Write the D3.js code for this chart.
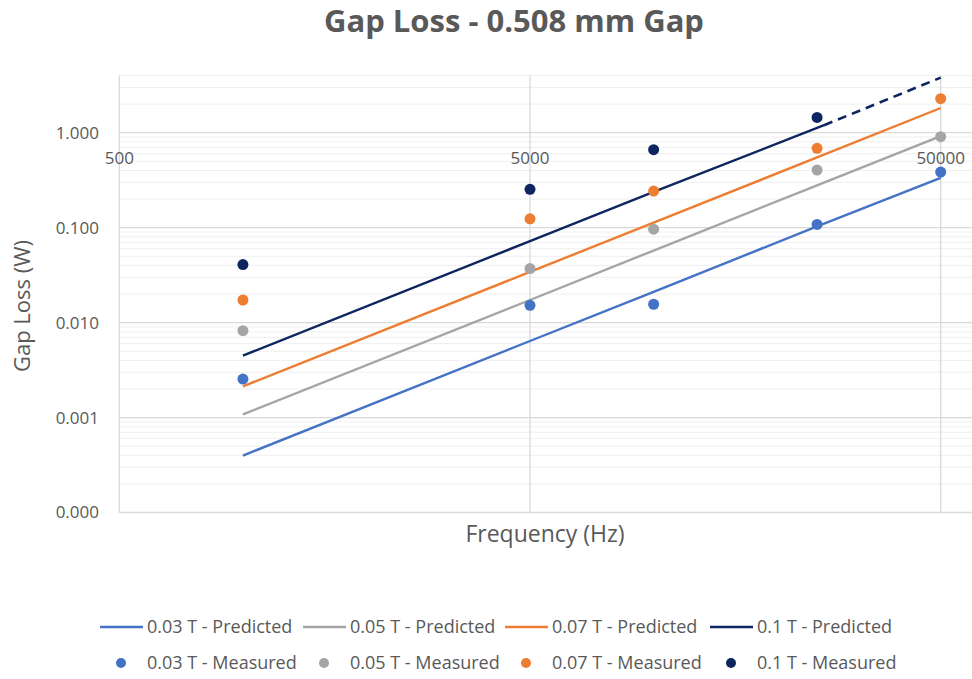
<!DOCTYPE html>
<html>
<head>
<meta charset="utf-8">
<script src="https://cdn.jsdelivr.net/npm/d3@7"></script>
<style>
  html, body { margin: 0; padding: 0; background: #fff; }
  svg { display: block; font-family: "Open Sans", sans-serif; }
</style>
</head>
<body>
<svg id="chart" width="972" height="679"></svg>
<script>
// Frequencies (Hz) where losses were measured
const freqMeasured = [1000, 5000, 10000, 25000, 50000];

// Measured gap loss (W) per flux density
const measured03 = [0.00254, 0.0152, 0.0156, 0.108, 0.385];
const measured05 = [0.00823, 0.0371, 0.0964, 0.404, 0.908];
const measured07 = [0.0173, 0.124, 0.243, 0.684, 2.28];
const measured10 = [0.0409, 0.253, 0.662, 1.45, null];

// Predicted gap loss (W)
const freqPredicted = [1000, 5000, 10000, 25000, 50000];
const predicted03 = [0.000398, 0.0064, 0.0211, 0.103, 0.335];
const predicted05 = [0.00108, 0.0173, 0.0574, 0.279, 0.92];
const predicted07 = [0.00213, 0.0342, 0.113, 0.549, 1.82];
// 0.1 T prediction: solid part, then dashed extension
const freqPredicted10 = [1000, 5000, 10000, 26000];
const predicted10 = [0.00449, 0.0721, 0.238, 1.2];
const freqPredicted10Ext = [26000, 50000];
const predicted10Ext = [1.2, 3.8];

const xTicks = [500, 5000, 50000];
const yTicks = [0.0001, 0.001, 0.01, 0.1, 1];

const seriesNames = ["0.03 T", "0.05 T", "0.07 T", "0.1 T"];
const colors = ["#4472C4", "#A5A5A5", "#ED7D31", "#0E2660"];

const svg = d3.select("#chart");
const textColor = "#595959";

const x = d3.scaleLog().domain([500, 50000]).range([119.3, 940.7]);
const y = d3.scaleLog().domain([0.0001, 1]).range([512.5, 132.7]);

const plotLeft = x(500), plotRight = 972;
const plotTop = y(4), plotBottom = y(0.0001);

// Title
svg.append("text")
  .attr("x", 514).attr("y", 32)
  .attr("text-anchor", "middle")
  .attr("fill", textColor)
  .style("font-size", "31px").style("font-weight", "700")
  .text("Gap Loss - 0.508 mm Gap");

// Minor horizontal gridlines (2..9 within each decade)
const minorVals = [];
for (let e = -4; e <= 0; e++) {
  for (let m = 2; m <= 9; m++) {
    const v = m * Math.pow(10, e);
    if (v <= 4.0001) minorVals.push(v);
  }
}
svg.append("g").selectAll("line").data(minorVals).join("line")
  .attr("x1", plotLeft).attr("x2", plotRight)
  .attr("y1", d => y(d)).attr("y2", d => y(d))
  .attr("stroke", "#efefef").attr("stroke-width", 1);

// Major horizontal gridlines
svg.append("g").selectAll("line").data(yTicks).join("line")
  .attr("x1", plotLeft).attr("x2", plotRight)
  .attr("y1", d => y(d)).attr("y2", d => y(d))
  .attr("stroke", "#d9d9d9").attr("stroke-width", 1.3);

// Vertical gridlines
svg.append("g").selectAll("line").data(xTicks).join("line")
  .attr("x1", d => x(d)).attr("x2", d => x(d))
  .attr("y1", plotTop).attr("y2", plotBottom)
  .attr("stroke", "#d9d9d9").attr("stroke-width", 1.3);

// Y tick labels
const yFmt = d3.format(".3f");
svg.append("g").selectAll("text").data(yTicks).join("text")
  .attr("x", 99).attr("y", d => y(d))
  .attr("dy", "0.35em")
  .attr("text-anchor", "end")
  .attr("fill", textColor)
  .style("font-size", "17px")
  .text(d => yFmt(d));

// X tick labels, sitting under the 1.000 line where the axis crosses
svg.append("g").selectAll("text").data(xTicks).join("text")
  .attr("x", d => x(d)).attr("y", y(1) + 31)
  .attr("text-anchor", "middle")
  .attr("fill", textColor)
  .style("font-size", "17px")
  .text(d => d);

// Axis titles
svg.append("text")
  .attr("x", 545).attr("y", 542)
  .attr("text-anchor", "middle")
  .attr("fill", textColor)
  .style("font-size", "23px")
  .text("Frequency (Hz)");

svg.append("text")
  .attr("transform", "translate(30,306) rotate(-90)")
  .attr("text-anchor", "middle")
  .attr("fill", textColor)
  .style("font-size", "22px")
  .text("Gap Loss (W)");

// Predicted lines
const line = d3.line().x(d => x(d[0])).y(d => y(d[1]));
const predictedSets = [
  [freqPredicted, predicted03],
  [freqPredicted, predicted05],
  [freqPredicted, predicted07],
  [freqPredicted10, predicted10]
];
predictedSets.forEach(([fs, vs], i) => {
  svg.append("path")
    .datum(d3.zip(fs, vs))
    .attr("d", line)
    .attr("fill", "none")
    .attr("stroke", colors[i])
    .attr("stroke-width", 2.4);
});
svg.append("path")
  .datum(d3.zip(freqPredicted10Ext, predicted10Ext))
  .attr("d", line)
  .attr("fill", "none")
  .attr("stroke", colors[3])
  .attr("stroke-width", 2.6)
  .attr("stroke-dasharray", "9,6");

// Measured points
const measuredSets = [measured03, measured05, measured07, measured10];
measuredSets.forEach((vs, i) => {
  const pts = d3.zip(freqMeasured, vs).filter(d => d[1] != null);
  svg.append("g").selectAll("circle").data(pts).join("circle")
    .attr("cx", d => x(d[0])).attr("cy", d => y(d[1]))
    .attr("r", 5.5)
    .attr("fill", colors[i]);
});

// Legend
const legendX = [100, 303, 505, 710];
const legend = svg.append("g");
seriesNames.forEach((name, i) => {
  const lx = legendX[i];
  legend.append("line")
    .attr("x1", lx).attr("x2", lx + 43)
    .attr("y1", 627).attr("y2", 627)
    .attr("stroke", colors[i]).attr("stroke-width", 2.4);
  legend.append("text")
    .attr("x", lx + 47).attr("y", 627).attr("dy", "0.35em")
    .attr("fill", textColor).style("font-size", "18px")
    .text(name + " - Predicted");
  legend.append("circle")
    .attr("cx", lx + 21).attr("cy", 663).attr("r", 5)
    .attr("fill", colors[i]);
  legend.append("text")
    .attr("x", lx + 47).attr("y", 663).attr("dy", "0.35em")
    .attr("fill", textColor).style("font-size", "18px")
    .text(name + " - Measured");
});
</script>
</body>
</html>
